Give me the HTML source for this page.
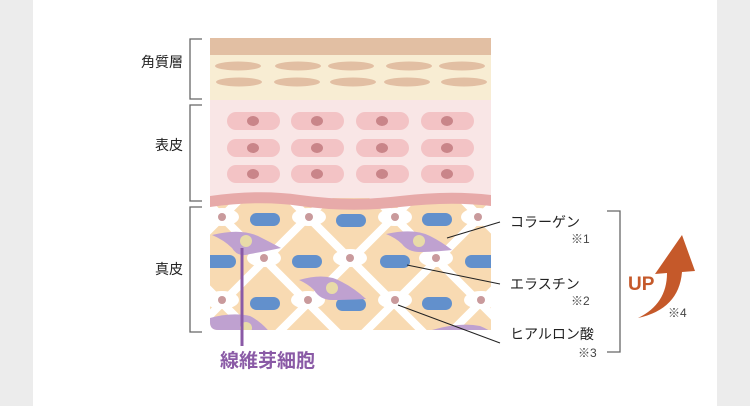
<!DOCTYPE html>
<html><head><meta charset="utf-8"><style>
html,body{margin:0;padding:0}
body{width:750px;height:406px;background:#ececec;position:relative;overflow:hidden;font-family:"Liberation Sans","Noto Sans CJK JP",sans-serif}
</style></head><body>
<svg width="750" height="406" style="position:absolute;left:0;top:0" font-family="Liberation Sans, Noto Sans CJK JP, sans-serif">
<defs>
<clipPath id="dm"><path d="M210 198 H491 V330 H218 Q210 330 210 322 Z"/></clipPath>
</defs>
<rect x="33" y="0" width="684" height="406" fill="#fff"/>
<rect x="210" y="38" width="281" height="17" fill="#e2bfa3"/>
<rect x="210" y="55" width="281" height="45" fill="#f8edd3"/>
<g fill="#e2bfa3">
<ellipse cx="238" cy="66" rx="23" ry="4.5"/><ellipse cx="298" cy="66" rx="23" ry="4.5"/><ellipse cx="351" cy="66" rx="23" ry="4.5"/><ellipse cx="409" cy="66" rx="23" ry="4.5"/><ellipse cx="462" cy="66" rx="23" ry="4.5"/>
<ellipse cx="239" cy="82" rx="23" ry="4.5"/><ellipse cx="297" cy="82" rx="23" ry="4.5"/><ellipse cx="353" cy="82" rx="23" ry="4.5"/><ellipse cx="407" cy="82" rx="23" ry="4.5"/><ellipse cx="464" cy="82" rx="23" ry="4.5"/>
</g>
<rect x="210" y="100" width="281" height="105" fill="#f9e6e6"/>
<g fill="#f3c3c5">
<rect x="227" y="112" width="53" height="18" rx="9"/><rect x="291" y="112" width="53" height="18" rx="9"/><rect x="356" y="112" width="53" height="18" rx="9"/><rect x="421" y="112" width="53" height="18" rx="9"/>
<rect x="227" y="139" width="53" height="18" rx="9"/><rect x="291" y="139" width="53" height="18" rx="9"/><rect x="356" y="139" width="53" height="18" rx="9"/><rect x="421" y="139" width="53" height="18" rx="9"/>
<rect x="227" y="165" width="53" height="18" rx="9"/><rect x="291" y="165" width="53" height="18" rx="9"/><rect x="356" y="165" width="53" height="18" rx="9"/><rect x="421" y="165" width="53" height="18" rx="9"/>
</g>
<g fill="#c98589">
<ellipse cx="253" cy="121" rx="6" ry="5"/><ellipse cx="317" cy="121" rx="6" ry="5"/><ellipse cx="382" cy="121" rx="6" ry="5"/><ellipse cx="447" cy="121" rx="6" ry="5"/>
<ellipse cx="253" cy="148" rx="6" ry="5"/><ellipse cx="317" cy="148" rx="6" ry="5"/><ellipse cx="382" cy="148" rx="6" ry="5"/><ellipse cx="447" cy="148" rx="6" ry="5"/>
<ellipse cx="253" cy="174" rx="6" ry="5"/><ellipse cx="317" cy="174" rx="6" ry="5"/><ellipse cx="382" cy="174" rx="6" ry="5"/><ellipse cx="447" cy="174" rx="6" ry="5"/>
</g>
<g clip-path="url(#dm)">
<rect x="210" y="195" width="281" height="140" fill="#f8dab2"/>
<g stroke="#fff" stroke-width="8">
<path d="M5 0 L405 400 M91 0 L491 400 M177 0 L577 400 M263 0 L663 400 M-81 0 L319 400 M349 0 L749 400 M-167 0 L233 400"/>
<path d="M439 0 L39 400 M525 0 L125 400 M611 0 L211 400 M697 0 L297 400 M783 0 L383 400 M869 0 L469 400 M955 0 L555 400 M353 0 L-47 400"/>
</g>
<g fill="#fff">
<ellipse cx="222" cy="217" rx="17" ry="9"/><ellipse cx="309" cy="217" rx="17" ry="9"/><ellipse cx="395" cy="217" rx="17" ry="9"/><ellipse cx="478" cy="217" rx="17" ry="9"/>
<ellipse cx="264" cy="258" rx="17" ry="9"/><ellipse cx="350" cy="258" rx="17" ry="9"/><ellipse cx="436" cy="258" rx="17" ry="9"/>
<ellipse cx="222" cy="300" rx="17" ry="9"/><ellipse cx="308" cy="300" rx="17" ry="9"/><ellipse cx="395" cy="300" rx="17" ry="9"/><ellipse cx="481" cy="300" rx="17" ry="9"/>
</g>
<g fill="#c99a9c">
<circle cx="222" cy="217" r="4"/><circle cx="309" cy="217" r="4"/><circle cx="395" cy="217" r="4"/><circle cx="478" cy="217" r="4"/>
<circle cx="264" cy="258" r="4"/><circle cx="350" cy="258" r="4"/><circle cx="436" cy="258" r="4"/>
<circle cx="222" cy="300" r="4"/><circle cx="308" cy="300" r="4"/><circle cx="395" cy="300" r="4"/><circle cx="481" cy="300" r="4"/>
</g>
<g fill="#6290cc">
<rect x="250" y="213" width="30" height="13" rx="6.5"/><rect x="336" y="214" width="30" height="13" rx="6.5"/><rect x="422" y="213" width="30" height="13" rx="6.5"/>
<rect x="200" y="255" width="36" height="13" rx="6.5"/><rect x="292" y="255" width="30" height="13" rx="6.5"/><rect x="380" y="255" width="30" height="13" rx="6.5"/><rect x="465" y="255" width="35" height="13" rx="6.5"/>
<rect x="250" y="297" width="30" height="13" rx="6.5"/><rect x="336" y="298" width="30" height="13" rx="6.5"/><rect x="422" y="297" width="30" height="13" rx="6.5"/>
</g>
<g fill="#bfa1d0">
<path d="M212 235 Q240 228 258 236 Q270 242 281 248 Q262 252 250 254 Q238 258 232 248 Q224 240 212 235Z"/>
<path d="M386 234 Q414 228 430 236 Q442 242 452 250 Q432 252 420 252 Q408 252 402 244 Q396 238 386 234Z"/>
<path d="M299 280 Q326 272 342 282 Q354 288 366 299 Q344 300 332 300 Q320 300 314 290 Q308 284 299 280Z"/>
<path d="M210 318 Q232 312 250 316 Q262 322 272 335 L210 335Z"/>
<path d="M432 330 Q460 322 480 326 Q490 330 495 335 L432 335Z"/>
</g>
<g fill="#e8dba8">
<circle cx="246" cy="241" r="6"/><circle cx="419" cy="241" r="6"/><circle cx="332" cy="288" r="6"/><circle cx="246" cy="328" r="6"/>
</g>
</g>
<path d="M210 196 Q260 189 300 195 Q350 202 400 196 Q450 190 491 195 V206 Q450 201 400 207 Q350 213 300 206 Q260 200 210 207Z" fill="#e7aaa9"/>
<line x1="242" y1="248" x2="242" y2="346" stroke="#8a5aa6" stroke-width="3"/>
<text x="220" y="367" font-size="19" font-weight="bold" fill="#8a5aa6">線維芽細胞</text>
<g stroke="#222" stroke-width="1" fill="none">
<line x1="447" y1="238" x2="500" y2="222"/>
<line x1="407" y1="265" x2="500" y2="284"/>
<line x1="398" y1="305" x2="500" y2="343"/>
</g>
<g stroke="#666" stroke-width="1.3" fill="none">
<path d="M202 39 H190 V99 H202"/>
<path d="M202 105 H190 V201 H202"/>
<path d="M202 207 H190 V332 H202"/>
<path d="M607 211 H620 V352 H607"/>
</g>
<g font-size="14" fill="#222">
<text x="183" y="67" text-anchor="end">角質層</text>
<text x="183" y="150" text-anchor="end">表皮</text>
<text x="183" y="274" text-anchor="end">真皮</text>
<text x="510" y="227">コラーゲン</text>
<text x="510" y="289">エラスチン</text>
<text x="510" y="339">ヒアルロン酸</text>
</g>
<g font-size="12" fill="#444">
<text x="571" y="243">※1</text>
<text x="571" y="305">※2</text>
<text x="578" y="357">※3</text>
<text x="668" y="317">※4</text>
</g>
<text x="628" y="290" font-size="19" font-weight="bold" fill="#c5592a">UP</text>
<path d="M638 318 Q667 304 667 273 L655 274 L682 235 L695 271 L682 272 Q679 309 638 318Z" fill="#c5592a"/>
</svg>
</body></html>
